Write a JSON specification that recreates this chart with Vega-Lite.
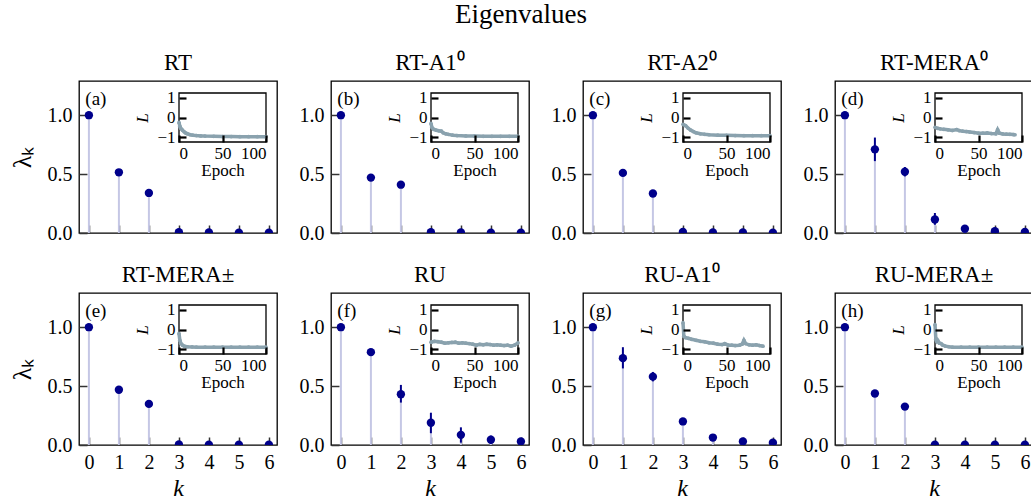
{
  "$schema": "https://vega.github.io/schema/vega-lite/v6.json",
  "padding": {"left": 8, "top": 1, "right": 0, "bottom": 0},
  "title": {"text": "Eigenvalues", "fontSize": 27, "anchor": "middle", "offset": 22},
  "datasets": {
    "eig": [
      {"p":"a","k":0,"lam":1.0,"lo":1.0,"hi":1.0},{"p":"a","k":1,"lam":0.515,"lo":0.51,"hi":0.52},{"p":"a","k":2,"lam":0.34,"lo":0.335,"hi":0.345},{"p":"a","k":3,"lam":0.006,"lo":0.003,"hi":0.009},{"p":"a","k":4,"lam":0.004,"lo":0.002,"hi":0.006},{"p":"a","k":5,"lam":0.003,"lo":0.001,"hi":0.005},{"p":"a","k":6,"lam":0.002,"lo":0.001,"hi":0.004},
      {"p":"b","k":0,"lam":1.0,"lo":1.0,"hi":1.0},{"p":"b","k":1,"lam":0.47,"lo":0.465,"hi":0.475},{"p":"b","k":2,"lam":0.41,"lo":0.405,"hi":0.415},{"p":"b","k":3,"lam":0.006,"lo":0.003,"hi":0.009},{"p":"b","k":4,"lam":0.004,"lo":0.002,"hi":0.006},{"p":"b","k":5,"lam":0.003,"lo":0.001,"hi":0.005},{"p":"b","k":6,"lam":0.002,"lo":0.001,"hi":0.004},
      {"p":"c","k":0,"lam":1.0,"lo":1.0,"hi":1.0},{"p":"c","k":1,"lam":0.51,"lo":0.505,"hi":0.515},{"p":"c","k":2,"lam":0.335,"lo":0.33,"hi":0.34},{"p":"c","k":3,"lam":0.008,"lo":0.004,"hi":0.012},{"p":"c","k":4,"lam":0.005,"lo":0.002,"hi":0.008},{"p":"c","k":5,"lam":0.004,"lo":0.001,"hi":0.007},{"p":"c","k":6,"lam":0.003,"lo":0.001,"hi":0.005},
      {"p":"d","k":0,"lam":1.0,"lo":1.0,"hi":1.0},{"p":"d","k":1,"lam":0.71,"lo":0.61,"hi":0.81},{"p":"d","k":2,"lam":0.52,"lo":0.48,"hi":0.56},{"p":"d","k":3,"lam":0.115,"lo":0.07,"hi":0.17},{"p":"d","k":4,"lam":0.036,"lo":0.015,"hi":0.06},{"p":"d","k":5,"lam":0.015,"lo":0.005,"hi":0.03},{"p":"d","k":6,"lam":0.008,"lo":0.0,"hi":0.025},
      {"p":"e","k":0,"lam":1.0,"lo":1.0,"hi":1.0},{"p":"e","k":1,"lam":0.469,"lo":0.464,"hi":0.474},{"p":"e","k":2,"lam":0.349,"lo":0.344,"hi":0.354},{"p":"e","k":3,"lam":0.004,"lo":0.002,"hi":0.006},{"p":"e","k":4,"lam":0.003,"lo":0.001,"hi":0.005},{"p":"e","k":5,"lam":0.002,"lo":0.001,"hi":0.004},{"p":"e","k":6,"lam":0.002,"lo":0.001,"hi":0.003},
      {"p":"f","k":0,"lam":1.0,"lo":1.0,"hi":1.0},{"p":"f","k":1,"lam":0.788,"lo":0.775,"hi":0.8},{"p":"f","k":2,"lam":0.431,"lo":0.36,"hi":0.51},{"p":"f","k":3,"lam":0.189,"lo":0.1,"hi":0.274},{"p":"f","k":4,"lam":0.086,"lo":0.02,"hi":0.15},{"p":"f","k":5,"lam":0.045,"lo":0.01,"hi":0.08},{"p":"f","k":6,"lam":0.03,"lo":0.015,"hi":0.045},
      {"p":"g","k":0,"lam":1.0,"lo":1.0,"hi":1.0},{"p":"g","k":1,"lam":0.737,"lo":0.65,"hi":0.83},{"p":"g","k":2,"lam":0.58,"lo":0.54,"hi":0.62},{"p":"g","k":3,"lam":0.2,"lo":0.19,"hi":0.21},{"p":"g","k":4,"lam":0.063,"lo":0.04,"hi":0.08},{"p":"g","k":5,"lam":0.03,"lo":0.02,"hi":0.04},{"p":"g","k":6,"lam":0.02,"lo":0.0,"hi":0.04},
      {"p":"h","k":0,"lam":1.0,"lo":1.0,"hi":1.0},{"p":"h","k":1,"lam":0.437,"lo":0.432,"hi":0.442},{"p":"h","k":2,"lam":0.326,"lo":0.321,"hi":0.331},{"p":"h","k":3,"lam":0.003,"lo":0.001,"hi":0.005},{"p":"h","k":4,"lam":0.002,"lo":0.001,"hi":0.004},{"p":"h","k":5,"lam":0.002,"lo":0.001,"hi":0.003},{"p":"h","k":6,"lam":0.002,"lo":0.001,"hi":0.003}
    ],
    "loss": [
      {"p":"a","e":0,"L":-0.25},{"p":"a","e":1,"L":-0.45},{"p":"a","e":2,"L":-0.55},{"p":"a","e":4,"L":-0.65},{"p":"a","e":6,"L":-0.73},{"p":"a","e":8,"L":-0.8},{"p":"a","e":10,"L":-0.84},{"p":"a","e":13,"L":-0.88},{"p":"a","e":16,"L":-0.9},{"p":"a","e":20,"L":-0.92},{"p":"a","e":25,"L":-0.94},{"p":"a","e":30,"L":-0.95},{"p":"a","e":40,"L":-0.96},{"p":"a","e":50,"L":-0.97},{"p":"a","e":60,"L":-0.97},{"p":"a","e":70,"L":-0.98},{"p":"a","e":80,"L":-0.98},{"p":"a","e":90,"L":-0.98},{"p":"a","e":100,"L":-0.98},
      {"p":"b","e":0,"L":-0.3},{"p":"b","e":1,"L":-0.5},{"p":"b","e":3,"L":-0.6},{"p":"b","e":6,"L":-0.65},{"p":"b","e":9,"L":-0.68},{"p":"b","e":12,"L":-0.7},{"p":"b","e":14,"L":-0.78},{"p":"b","e":17,"L":-0.83},{"p":"b","e":20,"L":-0.86},{"p":"b","e":25,"L":-0.9},{"p":"b","e":30,"L":-0.92},{"p":"b","e":40,"L":-0.94},{"p":"b","e":50,"L":-0.95},{"p":"b","e":60,"L":-0.96},{"p":"b","e":70,"L":-0.96},{"p":"b","e":80,"L":-0.96},{"p":"b","e":90,"L":-0.96},{"p":"b","e":100,"L":-0.96},
      {"p":"c","e":0,"L":-0.35},{"p":"c","e":3,"L":-0.42},{"p":"c","e":6,"L":-0.55},{"p":"c","e":9,"L":-0.65},{"p":"c","e":12,"L":-0.72},{"p":"c","e":15,"L":-0.78},{"p":"c","e":20,"L":-0.83},{"p":"c","e":25,"L":-0.86},{"p":"c","e":30,"L":-0.88},{"p":"c","e":40,"L":-0.9},{"p":"c","e":50,"L":-0.91},{"p":"c","e":60,"L":-0.92},{"p":"c","e":70,"L":-0.93},{"p":"c","e":80,"L":-0.93},{"p":"c","e":90,"L":-0.93},{"p":"c","e":100,"L":-0.93},
      {"p":"d","e":0,"L":-0.5},{"p":"d","e":3,"L":-0.55},{"p":"d","e":6,"L":-0.58},{"p":"d","e":10,"L":-0.6},{"p":"d","e":15,"L":-0.63},{"p":"d","e":20,"L":-0.66},{"p":"d","e":25,"L":-0.62},{"p":"d","e":28,"L":-0.67},{"p":"d","e":32,"L":-0.7},{"p":"d","e":36,"L":-0.72},{"p":"d","e":40,"L":-0.74},{"p":"d","e":45,"L":-0.77},{"p":"d","e":50,"L":-0.8},{"p":"d","e":55,"L":-0.8},{"p":"d","e":60,"L":-0.79},{"p":"d","e":65,"L":-0.82},{"p":"d","e":70,"L":-0.83},{"p":"d","e":72,"L":-0.62},{"p":"d","e":74,"L":-0.8},{"p":"d","e":78,"L":-0.84},{"p":"d","e":82,"L":-0.85},{"p":"d","e":86,"L":-0.86},{"p":"d","e":90,"L":-0.87},{"p":"d","e":92,"L":-0.88},
      {"p":"e","e":0,"L":-0.2},{"p":"e","e":1,"L":-0.55},{"p":"e","e":2,"L":-0.7},{"p":"e","e":4,"L":-0.8},{"p":"e","e":6,"L":-0.85},{"p":"e","e":8,"L":-0.87},{"p":"e","e":10,"L":-0.88},{"p":"e","e":15,"L":-0.89},{"p":"e","e":20,"L":-0.9},{"p":"e","e":30,"L":-0.9},{"p":"e","e":40,"L":-0.9},{"p":"e","e":50,"L":-0.9},{"p":"e","e":60,"L":-0.9},{"p":"e","e":70,"L":-0.9},{"p":"e","e":80,"L":-0.9},{"p":"e","e":90,"L":-0.9},{"p":"e","e":100,"L":-0.9},
      {"p":"f","e":0,"L":-0.65},{"p":"f","e":4,"L":-0.6},{"p":"f","e":8,"L":-0.62},{"p":"f","e":12,"L":-0.65},{"p":"f","e":16,"L":-0.7},{"p":"f","e":20,"L":-0.68},{"p":"f","e":24,"L":-0.66},{"p":"f","e":28,"L":-0.65},{"p":"f","e":32,"L":-0.7},{"p":"f","e":36,"L":-0.68},{"p":"f","e":40,"L":-0.7},{"p":"f","e":44,"L":-0.72},{"p":"f","e":48,"L":-0.75},{"p":"f","e":52,"L":-0.8},{"p":"f","e":56,"L":-0.76},{"p":"f","e":60,"L":-0.78},{"p":"f","e":64,"L":-0.75},{"p":"f","e":68,"L":-0.77},{"p":"f","e":72,"L":-0.8},{"p":"f","e":76,"L":-0.78},{"p":"f","e":80,"L":-0.8},{"p":"f","e":84,"L":-0.82},{"p":"f","e":88,"L":-0.8},{"p":"f","e":92,"L":-0.85},{"p":"f","e":96,"L":-0.8},{"p":"f","e":100,"L":-0.68},
      {"p":"g","e":0,"L":0.35},{"p":"g","e":1,"L":-0.35},{"p":"g","e":3,"L":-0.42},{"p":"g","e":6,"L":-0.45},{"p":"g","e":10,"L":-0.5},{"p":"g","e":15,"L":-0.55},{"p":"g","e":20,"L":-0.6},{"p":"g","e":25,"L":-0.63},{"p":"g","e":30,"L":-0.68},{"p":"g","e":35,"L":-0.7},{"p":"g","e":40,"L":-0.75},{"p":"g","e":45,"L":-0.77},{"p":"g","e":48,"L":-0.72},{"p":"g","e":52,"L":-0.8},{"p":"g","e":56,"L":-0.8},{"p":"g","e":60,"L":-0.82},{"p":"g","e":65,"L":-0.8},{"p":"g","e":68,"L":-0.75},{"p":"g","e":70,"L":-0.55},{"p":"g","e":72,"L":-0.72},{"p":"g","e":76,"L":-0.78},{"p":"g","e":80,"L":-0.8},{"p":"g","e":84,"L":-0.78},{"p":"g","e":88,"L":-0.82},{"p":"g","e":92,"L":-0.85},
      {"p":"h","e":0,"L":0.25},{"p":"h","e":1,"L":-0.5},{"p":"h","e":2,"L":-0.6},{"p":"h","e":3,"L":-0.55},{"p":"h","e":5,"L":-0.7},{"p":"h","e":7,"L":-0.72},{"p":"h","e":9,"L":-0.8},{"p":"h","e":12,"L":-0.85},{"p":"h","e":16,"L":-0.88},{"p":"h","e":20,"L":-0.9},{"p":"h","e":30,"L":-0.9},{"p":"h","e":40,"L":-0.9},{"p":"h","e":50,"L":-0.9},{"p":"h","e":60,"L":-0.9},{"p":"h","e":70,"L":-0.9},{"p":"h","e":80,"L":-0.9},{"p":"h","e":90,"L":-0.9},{"p":"h","e":100,"L":-0.9}
    ]
  },
  "columns": 4,
  "spacing": {"row": 60, "column": 54},
  "bounds": "flush",
  "concat": [
    {"width": 198, "height": 152, "title": "RT",
     "layer": [
      {"data": {"name": "eig"}, "transform": [{"filter": "datum.p == 'a'"}],
       "encoding": {
        "x": {"field": "k", "type": "quantitative", "scale": {"domain": [-0.33, 6.27], "nice": false, "zero": false}, "axis": {"values": [0,1,2,3,4,5,6], "labels": false, "title": null}},
        "y": {"field": "lam", "type": "quantitative", "scale": {"domain": [0, 1.29], "nice": false}, "axis": {"values": [0, 0.5, 1], "format": ".1f", "title": "λₖ", "titleFontSize": 26, "titlePadding": 12}}},
       "layer": [
        {"mark": {"type": "rule", "color": "#c5c7e5", "strokeWidth": 2}, "encoding": {"y2": {"datum": 0}}},
        {"mark": {"type": "rule", "color": "#00008b", "strokeWidth": 2, "clip": true}, "encoding": {"y": {"field": "lo", "type": "quantitative"}, "y2": {"field": "hi"}}},
        {"mark": {"type": "circle", "color": "#00008b", "size": 70, "opacity": 1, "clip": true}}
       ]},
      {"data": {"values": [{"t": "(a)"}]}, "mark": {"type": "text", "align": "left", "baseline": "middle", "fontSize": 19, "font": "Liberation Serif"},
       "encoding": {"x": {"datum": -0.12, "type": "quantitative", "scale": {"domain": [-0.33, 6.27], "nice": false, "zero": false}, "axis": null}, "y": {"datum": 1.14, "type": "quantitative", "scale": {"domain": [0, 1.29], "nice": false}, "axis": null}, "text": {"field": "t"}}},
      {"data": {"values": [{"t": "box"}]}, "mark": {"type": "rect", "fill": "white", "stroke": "black", "strokeWidth": 1.3},
       "encoding": {"x": {"datum": 0, "type": "quantitative", "scale": {"domain": [0, 100], "range": [100, 187], "nice": false, "zero": false}, "axis": null}, "x2": {"datum": 100}, "y": {"datum": -1.25, "type": "quantitative", "scale": {"domain": [-1.25, 1.25], "range": [61, 12], "nice": false, "zero": false}, "axis": null}, "y2": {"datum": 1.25}}},
      {"data": {"name": "loss"}, "transform": [{"filter": "datum.p == 'a'"}],
       "mark": {"type": "line", "color": "#8aa2ae", "strokeWidth": 3.5, "point": {"filled": true, "size": 14, "color": "#8aa2ae"}},
       "encoding": {
        "x": {"field": "e", "type": "quantitative", "scale": {"domain": [0, 100], "range": [100, 187], "nice": false, "zero": false}, "axis": {"orient": "bottom", "offset": -91, "values": [0, 50, 100], "title": "Epoch", "labelFontSize": 17, "titleFontSize": 17, "titlePadding": 1, "tickSize": -7, "tickWidth": 2.2, "tickColor": "black", "labelPadding": 10, "zindex": 1}},
        "y": {"field": "L", "type": "quantitative", "scale": {"domain": [-1.25, 1.25], "range": [61, 12], "nice": false, "zero": false}, "axis": {"orient": "left", "offset": -100, "values": [-1, 0, 1], "title": "L", "titleFontStyle": "italic", "labelFontSize": 17, "titleFontSize": 17, "titlePadding": 5, "tickSize": -7, "tickWidth": 2.2, "tickColor": "black", "labelPadding": 11, "zindex": 1}}}}
     ],
     "resolve": {"scale": {"x": "independent", "y": "independent"}, "axis": {"x": "independent", "y": "independent"}}
    },
    {"width": 198, "height": 152, "title": "RT-A1⁰",
     "layer": [
      {"data": {"name": "eig"}, "transform": [{"filter": "datum.p == 'b'"}],
       "encoding": {
        "x": {"field": "k", "type": "quantitative", "scale": {"domain": [-0.33, 6.27], "nice": false, "zero": false}, "axis": {"values": [0,1,2,3,4,5,6], "labels": false, "title": null}},
        "y": {"field": "lam", "type": "quantitative", "scale": {"domain": [0, 1.29], "nice": false}, "axis": {"values": [0, 0.5, 1], "format": ".1f", "title": null}}},
       "layer": [
        {"mark": {"type": "rule", "color": "#c5c7e5", "strokeWidth": 2}, "encoding": {"y2": {"datum": 0}}},
        {"mark": {"type": "rule", "color": "#00008b", "strokeWidth": 2, "clip": true}, "encoding": {"y": {"field": "lo", "type": "quantitative"}, "y2": {"field": "hi"}}},
        {"mark": {"type": "circle", "color": "#00008b", "size": 70, "opacity": 1, "clip": true}}
       ]},
      {"data": {"values": [{"t": "(b)"}]}, "mark": {"type": "text", "align": "left", "baseline": "middle", "fontSize": 19, "font": "Liberation Serif"},
       "encoding": {"x": {"datum": -0.12, "type": "quantitative", "scale": {"domain": [-0.33, 6.27], "nice": false, "zero": false}, "axis": null}, "y": {"datum": 1.14, "type": "quantitative", "scale": {"domain": [0, 1.29], "nice": false}, "axis": null}, "text": {"field": "t"}}},
      {"data": {"values": [{"t": "box"}]}, "mark": {"type": "rect", "fill": "white", "stroke": "black", "strokeWidth": 1.3},
       "encoding": {"x": {"datum": 0, "type": "quantitative", "scale": {"domain": [0, 100], "range": [100, 187], "nice": false, "zero": false}, "axis": null}, "x2": {"datum": 100}, "y": {"datum": -1.25, "type": "quantitative", "scale": {"domain": [-1.25, 1.25], "range": [61, 12], "nice": false, "zero": false}, "axis": null}, "y2": {"datum": 1.25}}},
      {"data": {"name": "loss"}, "transform": [{"filter": "datum.p == 'b'"}],
       "mark": {"type": "line", "color": "#8aa2ae", "strokeWidth": 3.5, "point": {"filled": true, "size": 14, "color": "#8aa2ae"}},
       "encoding": {
        "x": {"field": "e", "type": "quantitative", "scale": {"domain": [0, 100], "range": [100, 187], "nice": false, "zero": false}, "axis": {"orient": "bottom", "offset": -91, "values": [0, 50, 100], "title": "Epoch", "labelFontSize": 17, "titleFontSize": 17, "titlePadding": 1, "tickSize": -7, "tickWidth": 2.2, "tickColor": "black", "labelPadding": 10, "zindex": 1}},
        "y": {"field": "L", "type": "quantitative", "scale": {"domain": [-1.25, 1.25], "range": [61, 12], "nice": false, "zero": false}, "axis": {"orient": "left", "offset": -100, "values": [-1, 0, 1], "title": "L", "titleFontStyle": "italic", "labelFontSize": 17, "titleFontSize": 17, "titlePadding": 5, "tickSize": -7, "tickWidth": 2.2, "tickColor": "black", "labelPadding": 11, "zindex": 1}}}}
     ],
     "resolve": {"scale": {"x": "independent", "y": "independent"}, "axis": {"x": "independent", "y": "independent"}}
    },
    {"width": 198, "height": 152, "title": "RT-A2⁰",
     "layer": [
      {"data": {"name": "eig"}, "transform": [{"filter": "datum.p == 'c'"}],
       "encoding": {
        "x": {"field": "k", "type": "quantitative", "scale": {"domain": [-0.33, 6.27], "nice": false, "zero": false}, "axis": {"values": [0,1,2,3,4,5,6], "labels": false, "title": null}},
        "y": {"field": "lam", "type": "quantitative", "scale": {"domain": [0, 1.29], "nice": false}, "axis": {"values": [0, 0.5, 1], "format": ".1f", "title": null}}},
       "layer": [
        {"mark": {"type": "rule", "color": "#c5c7e5", "strokeWidth": 2}, "encoding": {"y2": {"datum": 0}}},
        {"mark": {"type": "rule", "color": "#00008b", "strokeWidth": 2, "clip": true}, "encoding": {"y": {"field": "lo", "type": "quantitative"}, "y2": {"field": "hi"}}},
        {"mark": {"type": "circle", "color": "#00008b", "size": 70, "opacity": 1, "clip": true}}
       ]},
      {"data": {"values": [{"t": "(c)"}]}, "mark": {"type": "text", "align": "left", "baseline": "middle", "fontSize": 19, "font": "Liberation Serif"},
       "encoding": {"x": {"datum": -0.12, "type": "quantitative", "scale": {"domain": [-0.33, 6.27], "nice": false, "zero": false}, "axis": null}, "y": {"datum": 1.14, "type": "quantitative", "scale": {"domain": [0, 1.29], "nice": false}, "axis": null}, "text": {"field": "t"}}},
      {"data": {"values": [{"t": "box"}]}, "mark": {"type": "rect", "fill": "white", "stroke": "black", "strokeWidth": 1.3},
       "encoding": {"x": {"datum": 0, "type": "quantitative", "scale": {"domain": [0, 100], "range": [100, 187], "nice": false, "zero": false}, "axis": null}, "x2": {"datum": 100}, "y": {"datum": -1.25, "type": "quantitative", "scale": {"domain": [-1.25, 1.25], "range": [61, 12], "nice": false, "zero": false}, "axis": null}, "y2": {"datum": 1.25}}},
      {"data": {"name": "loss"}, "transform": [{"filter": "datum.p == 'c'"}],
       "mark": {"type": "line", "color": "#8aa2ae", "strokeWidth": 3.5, "point": {"filled": true, "size": 14, "color": "#8aa2ae"}},
       "encoding": {
        "x": {"field": "e", "type": "quantitative", "scale": {"domain": [0, 100], "range": [100, 187], "nice": false, "zero": false}, "axis": {"orient": "bottom", "offset": -91, "values": [0, 50, 100], "title": "Epoch", "labelFontSize": 17, "titleFontSize": 17, "titlePadding": 1, "tickSize": -7, "tickWidth": 2.2, "tickColor": "black", "labelPadding": 10, "zindex": 1}},
        "y": {"field": "L", "type": "quantitative", "scale": {"domain": [-1.25, 1.25], "range": [61, 12], "nice": false, "zero": false}, "axis": {"orient": "left", "offset": -100, "values": [-1, 0, 1], "title": "L", "titleFontStyle": "italic", "labelFontSize": 17, "titleFontSize": 17, "titlePadding": 5, "tickSize": -7, "tickWidth": 2.2, "tickColor": "black", "labelPadding": 11, "zindex": 1}}}}
     ],
     "resolve": {"scale": {"x": "independent", "y": "independent"}, "axis": {"x": "independent", "y": "independent"}}
    },
    {"width": 198, "height": 152, "title": "RT-MERA⁰",
     "layer": [
      {"data": {"name": "eig"}, "transform": [{"filter": "datum.p == 'd'"}],
       "encoding": {
        "x": {"field": "k", "type": "quantitative", "scale": {"domain": [-0.33, 6.27], "nice": false, "zero": false}, "axis": {"values": [0,1,2,3,4,5,6], "labels": false, "title": null}},
        "y": {"field": "lam", "type": "quantitative", "scale": {"domain": [0, 1.29], "nice": false}, "axis": {"values": [0, 0.5, 1], "format": ".1f", "title": null}}},
       "layer": [
        {"mark": {"type": "rule", "color": "#c5c7e5", "strokeWidth": 2}, "encoding": {"y2": {"datum": 0}}},
        {"mark": {"type": "rule", "color": "#00008b", "strokeWidth": 2, "clip": true}, "encoding": {"y": {"field": "lo", "type": "quantitative"}, "y2": {"field": "hi"}}},
        {"mark": {"type": "circle", "color": "#00008b", "size": 70, "opacity": 1, "clip": true}}
       ]},
      {"data": {"values": [{"t": "(d)"}]}, "mark": {"type": "text", "align": "left", "baseline": "middle", "fontSize": 19, "font": "Liberation Serif"},
       "encoding": {"x": {"datum": -0.12, "type": "quantitative", "scale": {"domain": [-0.33, 6.27], "nice": false, "zero": false}, "axis": null}, "y": {"datum": 1.14, "type": "quantitative", "scale": {"domain": [0, 1.29], "nice": false}, "axis": null}, "text": {"field": "t"}}},
      {"data": {"values": [{"t": "box"}]}, "mark": {"type": "rect", "fill": "white", "stroke": "black", "strokeWidth": 1.3},
       "encoding": {"x": {"datum": 0, "type": "quantitative", "scale": {"domain": [0, 100], "range": [100, 187], "nice": false, "zero": false}, "axis": null}, "x2": {"datum": 100}, "y": {"datum": -1.25, "type": "quantitative", "scale": {"domain": [-1.25, 1.25], "range": [61, 12], "nice": false, "zero": false}, "axis": null}, "y2": {"datum": 1.25}}},
      {"data": {"name": "loss"}, "transform": [{"filter": "datum.p == 'd'"}],
       "mark": {"type": "line", "color": "#8aa2ae", "strokeWidth": 3.5, "point": {"filled": true, "size": 14, "color": "#8aa2ae"}},
       "encoding": {
        "x": {"field": "e", "type": "quantitative", "scale": {"domain": [0, 100], "range": [100, 187], "nice": false, "zero": false}, "axis": {"orient": "bottom", "offset": -91, "values": [0, 50, 100], "title": "Epoch", "labelFontSize": 17, "titleFontSize": 17, "titlePadding": 1, "tickSize": -7, "tickWidth": 2.2, "tickColor": "black", "labelPadding": 10, "zindex": 1}},
        "y": {"field": "L", "type": "quantitative", "scale": {"domain": [-1.25, 1.25], "range": [61, 12], "nice": false, "zero": false}, "axis": {"orient": "left", "offset": -100, "values": [-1, 0, 1], "title": "L", "titleFontStyle": "italic", "labelFontSize": 17, "titleFontSize": 17, "titlePadding": 5, "tickSize": -7, "tickWidth": 2.2, "tickColor": "black", "labelPadding": 11, "zindex": 1}}}}
     ],
     "resolve": {"scale": {"x": "independent", "y": "independent"}, "axis": {"x": "independent", "y": "independent"}}
    },
    {"width": 198, "height": 152, "title": "RT-MERA±",
     "layer": [
      {"data": {"name": "eig"}, "transform": [{"filter": "datum.p == 'e'"}],
       "encoding": {
        "x": {"field": "k", "type": "quantitative", "scale": {"domain": [-0.33, 6.27], "nice": false, "zero": false}, "axis": {"values": [0,1,2,3,4,5,6], "labels": true, "format": "d", "title": "k", "titleFontStyle": "italic", "titlePadding": 4}},
        "y": {"field": "lam", "type": "quantitative", "scale": {"domain": [0, 1.29], "nice": false}, "axis": {"values": [0, 0.5, 1], "format": ".1f", "title": "λₖ", "titleFontSize": 26, "titlePadding": 12}}},
       "layer": [
        {"mark": {"type": "rule", "color": "#c5c7e5", "strokeWidth": 2}, "encoding": {"y2": {"datum": 0}}},
        {"mark": {"type": "rule", "color": "#00008b", "strokeWidth": 2, "clip": true}, "encoding": {"y": {"field": "lo", "type": "quantitative"}, "y2": {"field": "hi"}}},
        {"mark": {"type": "circle", "color": "#00008b", "size": 70, "opacity": 1, "clip": true}}
       ]},
      {"data": {"values": [{"t": "(e)"}]}, "mark": {"type": "text", "align": "left", "baseline": "middle", "fontSize": 19, "font": "Liberation Serif"},
       "encoding": {"x": {"datum": -0.12, "type": "quantitative", "scale": {"domain": [-0.33, 6.27], "nice": false, "zero": false}, "axis": null}, "y": {"datum": 1.14, "type": "quantitative", "scale": {"domain": [0, 1.29], "nice": false}, "axis": null}, "text": {"field": "t"}}},
      {"data": {"values": [{"t": "box"}]}, "mark": {"type": "rect", "fill": "white", "stroke": "black", "strokeWidth": 1.3},
       "encoding": {"x": {"datum": 0, "type": "quantitative", "scale": {"domain": [0, 100], "range": [100, 187], "nice": false, "zero": false}, "axis": null}, "x2": {"datum": 100}, "y": {"datum": -1.25, "type": "quantitative", "scale": {"domain": [-1.25, 1.25], "range": [61, 12], "nice": false, "zero": false}, "axis": null}, "y2": {"datum": 1.25}}},
      {"data": {"name": "loss"}, "transform": [{"filter": "datum.p == 'e'"}],
       "mark": {"type": "line", "color": "#8aa2ae", "strokeWidth": 3.5, "point": {"filled": true, "size": 14, "color": "#8aa2ae"}},
       "encoding": {
        "x": {"field": "e", "type": "quantitative", "scale": {"domain": [0, 100], "range": [100, 187], "nice": false, "zero": false}, "axis": {"orient": "bottom", "offset": -91, "values": [0, 50, 100], "title": "Epoch", "labelFontSize": 17, "titleFontSize": 17, "titlePadding": 1, "tickSize": -7, "tickWidth": 2.2, "tickColor": "black", "labelPadding": 10, "zindex": 1}},
        "y": {"field": "L", "type": "quantitative", "scale": {"domain": [-1.25, 1.25], "range": [61, 12], "nice": false, "zero": false}, "axis": {"orient": "left", "offset": -100, "values": [-1, 0, 1], "title": "L", "titleFontStyle": "italic", "labelFontSize": 17, "titleFontSize": 17, "titlePadding": 5, "tickSize": -7, "tickWidth": 2.2, "tickColor": "black", "labelPadding": 11, "zindex": 1}}}}
     ],
     "resolve": {"scale": {"x": "independent", "y": "independent"}, "axis": {"x": "independent", "y": "independent"}}
    },
    {"width": 198, "height": 152, "title": "RU",
     "layer": [
      {"data": {"name": "eig"}, "transform": [{"filter": "datum.p == 'f'"}],
       "encoding": {
        "x": {"field": "k", "type": "quantitative", "scale": {"domain": [-0.33, 6.27], "nice": false, "zero": false}, "axis": {"values": [0,1,2,3,4,5,6], "labels": true, "format": "d", "title": "k", "titleFontStyle": "italic", "titlePadding": 4}},
        "y": {"field": "lam", "type": "quantitative", "scale": {"domain": [0, 1.29], "nice": false}, "axis": {"values": [0, 0.5, 1], "format": ".1f", "title": null}}},
       "layer": [
        {"mark": {"type": "rule", "color": "#c5c7e5", "strokeWidth": 2}, "encoding": {"y2": {"datum": 0}}},
        {"mark": {"type": "rule", "color": "#00008b", "strokeWidth": 2, "clip": true}, "encoding": {"y": {"field": "lo", "type": "quantitative"}, "y2": {"field": "hi"}}},
        {"mark": {"type": "circle", "color": "#00008b", "size": 70, "opacity": 1, "clip": true}}
       ]},
      {"data": {"values": [{"t": "(f)"}]}, "mark": {"type": "text", "align": "left", "baseline": "middle", "fontSize": 19, "font": "Liberation Serif"},
       "encoding": {"x": {"datum": -0.12, "type": "quantitative", "scale": {"domain": [-0.33, 6.27], "nice": false, "zero": false}, "axis": null}, "y": {"datum": 1.14, "type": "quantitative", "scale": {"domain": [0, 1.29], "nice": false}, "axis": null}, "text": {"field": "t"}}},
      {"data": {"values": [{"t": "box"}]}, "mark": {"type": "rect", "fill": "white", "stroke": "black", "strokeWidth": 1.3},
       "encoding": {"x": {"datum": 0, "type": "quantitative", "scale": {"domain": [0, 100], "range": [100, 187], "nice": false, "zero": false}, "axis": null}, "x2": {"datum": 100}, "y": {"datum": -1.25, "type": "quantitative", "scale": {"domain": [-1.25, 1.25], "range": [61, 12], "nice": false, "zero": false}, "axis": null}, "y2": {"datum": 1.25}}},
      {"data": {"name": "loss"}, "transform": [{"filter": "datum.p == 'f'"}],
       "mark": {"type": "line", "color": "#8aa2ae", "strokeWidth": 3.5, "point": {"filled": true, "size": 14, "color": "#8aa2ae"}},
       "encoding": {
        "x": {"field": "e", "type": "quantitative", "scale": {"domain": [0, 100], "range": [100, 187], "nice": false, "zero": false}, "axis": {"orient": "bottom", "offset": -91, "values": [0, 50, 100], "title": "Epoch", "labelFontSize": 17, "titleFontSize": 17, "titlePadding": 1, "tickSize": -7, "tickWidth": 2.2, "tickColor": "black", "labelPadding": 10, "zindex": 1}},
        "y": {"field": "L", "type": "quantitative", "scale": {"domain": [-1.25, 1.25], "range": [61, 12], "nice": false, "zero": false}, "axis": {"orient": "left", "offset": -100, "values": [-1, 0, 1], "title": "L", "titleFontStyle": "italic", "labelFontSize": 17, "titleFontSize": 17, "titlePadding": 5, "tickSize": -7, "tickWidth": 2.2, "tickColor": "black", "labelPadding": 11, "zindex": 1}}}}
     ],
     "resolve": {"scale": {"x": "independent", "y": "independent"}, "axis": {"x": "independent", "y": "independent"}}
    },
    {"width": 198, "height": 152, "title": "RU-A1⁰",
     "layer": [
      {"data": {"name": "eig"}, "transform": [{"filter": "datum.p == 'g'"}],
       "encoding": {
        "x": {"field": "k", "type": "quantitative", "scale": {"domain": [-0.33, 6.27], "nice": false, "zero": false}, "axis": {"values": [0,1,2,3,4,5,6], "labels": true, "format": "d", "title": "k", "titleFontStyle": "italic", "titlePadding": 4}},
        "y": {"field": "lam", "type": "quantitative", "scale": {"domain": [0, 1.29], "nice": false}, "axis": {"values": [0, 0.5, 1], "format": ".1f", "title": null}}},
       "layer": [
        {"mark": {"type": "rule", "color": "#c5c7e5", "strokeWidth": 2}, "encoding": {"y2": {"datum": 0}}},
        {"mark": {"type": "rule", "color": "#00008b", "strokeWidth": 2, "clip": true}, "encoding": {"y": {"field": "lo", "type": "quantitative"}, "y2": {"field": "hi"}}},
        {"mark": {"type": "circle", "color": "#00008b", "size": 70, "opacity": 1, "clip": true}}
       ]},
      {"data": {"values": [{"t": "(g)"}]}, "mark": {"type": "text", "align": "left", "baseline": "middle", "fontSize": 19, "font": "Liberation Serif"},
       "encoding": {"x": {"datum": -0.12, "type": "quantitative", "scale": {"domain": [-0.33, 6.27], "nice": false, "zero": false}, "axis": null}, "y": {"datum": 1.14, "type": "quantitative", "scale": {"domain": [0, 1.29], "nice": false}, "axis": null}, "text": {"field": "t"}}},
      {"data": {"values": [{"t": "box"}]}, "mark": {"type": "rect", "fill": "white", "stroke": "black", "strokeWidth": 1.3},
       "encoding": {"x": {"datum": 0, "type": "quantitative", "scale": {"domain": [0, 100], "range": [100, 187], "nice": false, "zero": false}, "axis": null}, "x2": {"datum": 100}, "y": {"datum": -1.25, "type": "quantitative", "scale": {"domain": [-1.25, 1.25], "range": [61, 12], "nice": false, "zero": false}, "axis": null}, "y2": {"datum": 1.25}}},
      {"data": {"name": "loss"}, "transform": [{"filter": "datum.p == 'g'"}],
       "mark": {"type": "line", "color": "#8aa2ae", "strokeWidth": 3.5, "point": {"filled": true, "size": 14, "color": "#8aa2ae"}},
       "encoding": {
        "x": {"field": "e", "type": "quantitative", "scale": {"domain": [0, 100], "range": [100, 187], "nice": false, "zero": false}, "axis": {"orient": "bottom", "offset": -91, "values": [0, 50, 100], "title": "Epoch", "labelFontSize": 17, "titleFontSize": 17, "titlePadding": 1, "tickSize": -7, "tickWidth": 2.2, "tickColor": "black", "labelPadding": 10, "zindex": 1}},
        "y": {"field": "L", "type": "quantitative", "scale": {"domain": [-1.25, 1.25], "range": [61, 12], "nice": false, "zero": false}, "axis": {"orient": "left", "offset": -100, "values": [-1, 0, 1], "title": "L", "titleFontStyle": "italic", "labelFontSize": 17, "titleFontSize": 17, "titlePadding": 5, "tickSize": -7, "tickWidth": 2.2, "tickColor": "black", "labelPadding": 11, "zindex": 1}}}}
     ],
     "resolve": {"scale": {"x": "independent", "y": "independent"}, "axis": {"x": "independent", "y": "independent"}}
    },
    {"width": 198, "height": 152, "title": "RU-MERA±",
     "layer": [
      {"data": {"name": "eig"}, "transform": [{"filter": "datum.p == 'h'"}],
       "encoding": {
        "x": {"field": "k", "type": "quantitative", "scale": {"domain": [-0.33, 6.27], "nice": false, "zero": false}, "axis": {"values": [0,1,2,3,4,5,6], "labels": true, "format": "d", "title": "k", "titleFontStyle": "italic", "titlePadding": 4}},
        "y": {"field": "lam", "type": "quantitative", "scale": {"domain": [0, 1.29], "nice": false}, "axis": {"values": [0, 0.5, 1], "format": ".1f", "title": null}}},
       "layer": [
        {"mark": {"type": "rule", "color": "#c5c7e5", "strokeWidth": 2}, "encoding": {"y2": {"datum": 0}}},
        {"mark": {"type": "rule", "color": "#00008b", "strokeWidth": 2, "clip": true}, "encoding": {"y": {"field": "lo", "type": "quantitative"}, "y2": {"field": "hi"}}},
        {"mark": {"type": "circle", "color": "#00008b", "size": 70, "opacity": 1, "clip": true}}
       ]},
      {"data": {"values": [{"t": "(h)"}]}, "mark": {"type": "text", "align": "left", "baseline": "middle", "fontSize": 19, "font": "Liberation Serif"},
       "encoding": {"x": {"datum": -0.12, "type": "quantitative", "scale": {"domain": [-0.33, 6.27], "nice": false, "zero": false}, "axis": null}, "y": {"datum": 1.14, "type": "quantitative", "scale": {"domain": [0, 1.29], "nice": false}, "axis": null}, "text": {"field": "t"}}},
      {"data": {"values": [{"t": "box"}]}, "mark": {"type": "rect", "fill": "white", "stroke": "black", "strokeWidth": 1.3},
       "encoding": {"x": {"datum": 0, "type": "quantitative", "scale": {"domain": [0, 100], "range": [100, 187], "nice": false, "zero": false}, "axis": null}, "x2": {"datum": 100}, "y": {"datum": -1.25, "type": "quantitative", "scale": {"domain": [-1.25, 1.25], "range": [61, 12], "nice": false, "zero": false}, "axis": null}, "y2": {"datum": 1.25}}},
      {"data": {"name": "loss"}, "transform": [{"filter": "datum.p == 'h'"}],
       "mark": {"type": "line", "color": "#8aa2ae", "strokeWidth": 3.5, "point": {"filled": true, "size": 14, "color": "#8aa2ae"}},
       "encoding": {
        "x": {"field": "e", "type": "quantitative", "scale": {"domain": [0, 100], "range": [100, 187], "nice": false, "zero": false}, "axis": {"orient": "bottom", "offset": -91, "values": [0, 50, 100], "title": "Epoch", "labelFontSize": 17, "titleFontSize": 17, "titlePadding": 1, "tickSize": -7, "tickWidth": 2.2, "tickColor": "black", "labelPadding": 10, "zindex": 1}},
        "y": {"field": "L", "type": "quantitative", "scale": {"domain": [-1.25, 1.25], "range": [61, 12], "nice": false, "zero": false}, "axis": {"orient": "left", "offset": -100, "values": [-1, 0, 1], "title": "L", "titleFontStyle": "italic", "labelFontSize": 17, "titleFontSize": 17, "titlePadding": 5, "tickSize": -7, "tickWidth": 2.2, "tickColor": "black", "labelPadding": 11, "zindex": 1}}}}
     ],
     "resolve": {"scale": {"x": "independent", "y": "independent"}, "axis": {"x": "independent", "y": "independent"}}
    }
  ],
  "config": {
    "font": "Liberation Serif",
    "view": {"stroke": "black", "strokeWidth": 1.3},
    "title": {"font": "Liberation Serif", "fontSize": 23, "fontWeight": "normal", "color": "black", "offset": 6},
    "axis": {"labelFont": "Liberation Serif", "labelFontSize": 20, "labelColor": "black", "titleFont": "Liberation Serif", "titleFontSize": 24, "titleFontWeight": "normal", "titleColor": "black", "domain": false, "grid": false, "tickColor": "#333", "tickSize": -8, "tickWidth": 1.5, "labelPadding": 15, "zindex": 1}
  }
}
